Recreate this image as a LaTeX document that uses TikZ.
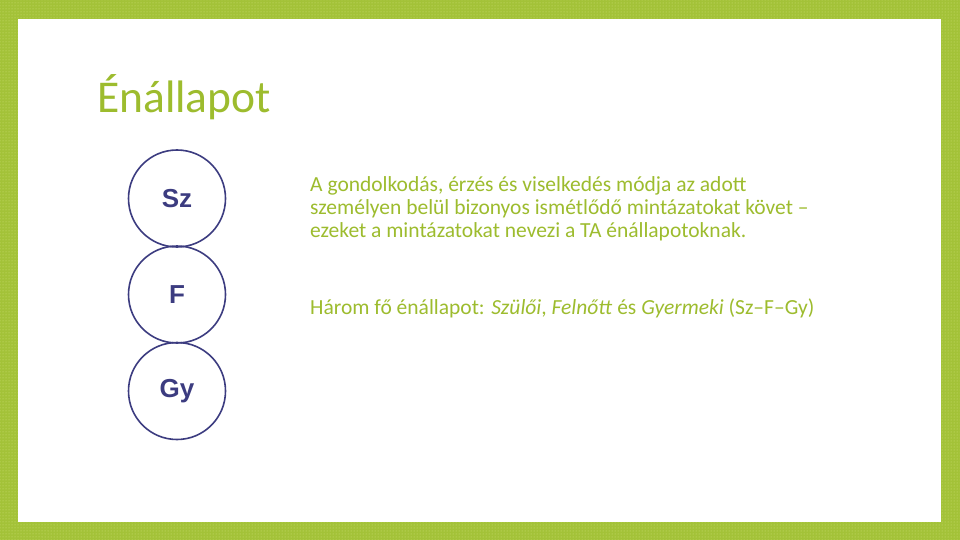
\documentclass[tikz,border=0pt]{standalone}
\usepackage{fontspec}
\setmainfont{Carlito}
\newfontfamily\labelfont{Liberation Sans}
\usetikzlibrary{patterns}
\definecolor{framegreen}{HTML}{A3C238}
\definecolor{dotgreen}{HTML}{D2E27A}
\definecolor{textgreen}{HTML}{9DBC2E}
\definecolor{ringblue}{HTML}{3C3C80}
\tikzset{
  state/.style={circle,draw=ringblue,line width=1.6pt,minimum size=97pt,inner sep=0pt,
    text=ringblue,font=\labelfont\bfseries\fontsize{26}{30}\selectfont},
  body/.style={anchor=base west,inner sep=0pt,align=left,text=textgreen,
    font=\fontsize{21.5}{23}\selectfont}
}
\begin{document}
\begin{tikzpicture}[x=1pt,y=-1pt]
\useasboundingbox (0,0) rectangle (960,540);
\fill[framegreen] (0,0) rectangle (960,540);
\fill[pattern=dots,pattern color=dotgreen] (0,0) rectangle (960,540);
\fill[white] (18,19) rectangle (941,522);
\node[anchor=base west,inner sep=0pt,text=textgreen,font=\fontsize{45.5}{52}\selectfont] (title) at (97,113) {Énállapot};
\node[state] (sz) at (177,198.5) {Sz};
\node[state] (f) at (177,294.5) {F};
\node[state] (gy) at (177,391) {Gy};
% base anchor sits on the last line
\node[body] (desc) at (310,237.5) {A gondolkodás, érzés és viselkedés módja az adott\\
személyen belül bizonyos ismétlődő mintázatokat követ –\\
ezeket a mintázatokat nevezi a TA énállapotoknak.};
\node[body] (three) at (310,314) {Három fő énállapot: \textit{Szülői}, \textit{Felnőtt} és \textit{Gyermeki} (Sz–F–Gy)};
\end{tikzpicture}
\end{document}
